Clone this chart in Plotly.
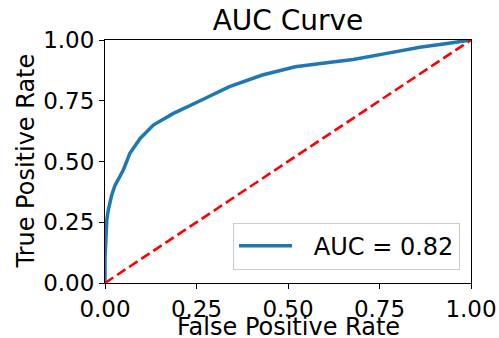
import plotly.graph_objects as go

fpr = [0.0, 0.0, 0.003, 0.005, 0.009, 0.018, 0.027, 0.05, 0.068, 0.096, 0.132,
       0.187, 0.26, 0.34, 0.43, 0.52, 0.60, 0.678, 0.77, 0.86, 0.93, 1.0]
tpr = [0.0, 0.10, 0.20, 0.26, 0.30, 0.36, 0.40, 0.465, 0.534, 0.595, 0.65,
       0.698, 0.75, 0.808, 0.856, 0.89, 0.905, 0.92, 0.945, 0.97, 0.985, 1.0]
diag = [0.0, 1.0]
tick_vals = [0.0, 0.25, 0.5, 0.75, 1.0]
tick_text = ["0.00", "0.25", "0.50", "0.75", "1.00"]
auc_label = "AUC = 0.82"

FONT = "DejaVu Sans"
W, H = 499, 338
L, R, T, B = 105, 28, 40, 55

fig = go.Figure()
fig.add_trace(go.Scatter(x=fpr, y=tpr, mode="lines", name="\u2002\u2009" + auc_label,
                         line=dict(color="#1f77b4", width=3.5)))
fig.add_trace(go.Scatter(x=diag, y=diag, mode="lines", showlegend=False,
                         line=dict(color="#ff0000", width=2.6, dash="10px,4.5px")))

axis_common = dict(
    range=[0, 1], tickvals=tick_vals, ticktext=tick_text, automargin=False,
    showgrid=False, zeroline=False, showline=True, linecolor="black",
    linewidth=1, mirror=True, ticks="outside", ticklen=5, tickwidth=1,
    tickcolor="black", tickfont=dict(family=FONT, size=23, color="black"),
)

ph = H - T - B
fig.update_layout(
    width=W, height=H,
    margin=dict(l=L, r=R, t=T, b=B),
    paper_bgcolor="white", plot_bgcolor="white",
    font=dict(family=FONT, color="black"),
    title=dict(text="AUC Curve", x=0.5, xref="paper", xanchor="center",
               y=1 - 20 / H, yref="container", yanchor="middle",
               font=dict(family=FONT, size=28, color="black")),
    xaxis=dict(**axis_common),
    yaxis=dict(**axis_common),
    legend=dict(x=0.97, y=0.055, xanchor="right", yanchor="bottom",
                bgcolor="white", bordercolor="#cccccc", borderwidth=1,
                itemwidth=53,
                font=dict(family=FONT, size=24, color="black")),
    annotations=[
        dict(text="False Positive Rate", xref="paper", yref="paper",
             x=0.5, y=-(327 - (H - B)) / ph, xanchor="center", yanchor="middle",
             showarrow=False, font=dict(family=FONT, size=24, color="black")),
        dict(text="True Positive Rate", xref="paper", yref="paper",
             x=-(L - 25) / (W - L - R), y=0.5, xanchor="center", yanchor="middle",
             textangle=-90, showarrow=False,
             font=dict(family=FONT, size=24, color="black")),
    ],
)

fig.write_html("out.html", config={"displayModeBar": False},
               post_script="document.body.style.margin='0';document.body.style.overflow='hidden';")
